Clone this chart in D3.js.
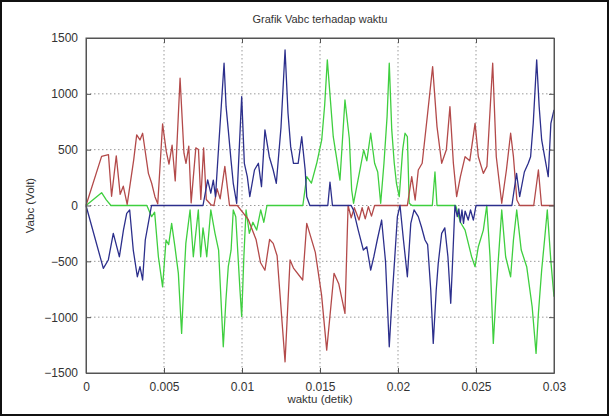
<!DOCTYPE html>
<html>
<head>
<meta charset="utf-8">
<script src="https://cdn.jsdelivr.net/npm/d3@7"></script>
<style>
  body { margin: 0; background: #fff; }
  svg { display: block; font-family: "Liberation Sans", Arial, sans-serif; }
  .tick text { fill: #333; font-size: 12px; }
</style>
</head>
<body>
<svg id="chart"></svg>
<script>
// waktu (detik) vs tegangan (Volt), titik-titik
var phaseA = [
  [0,0],[0.0010,440],[0.00144,456],[0.00164,83],[0.00194,445],[0.00219,100],[0.00239,173],
  [0.00264,10],[0.00306,411],[0.00325,632],[0.00346,587],[0.00363,647],[0.0040,288],
  [0.00421,199],[0.00442,79],[0.0046,15],[0.00491,730],[0.00515,480],[0.00532,370],
  [0.00552,540],[0.00572,220],[0.00603,1140],[0.00628,468],[0.00641,378],[0.00659,531],
  [0.00674,24],[0.00704,516],[0.00721,501],[0.00736,54],[0.00754,516],[0.00771,54],
  [0.00803,5],[0.0082,0],[0.0084,150],[0.0086,60],[0.0089,350],[0.0092,0],[0.0097,0],
  [0.0104,-125],[0.0109,-304],[0.01119,-513],[0.01147,-580],[0.01177,-304],[0.0120,-339],
  [0.01225,-450],[0.01276,-1400],[0.01308,-488],[0.0133,-560],[0.01389,-667],[0.01415,-160],
  [0.0147,-420],[0.0151,-800],[0.01543,-1295],[0.0159,-607],[0.0162,-700],[0.0166,-966],
  [0.0168,0],[0.0170,-110],[0.0172,-20],[0.0175,-130],[0.0177,-20],[0.0179,-120],
  [0.0181,-10],[0.0183,-95],[0.0185,0],[0.0206,0],[0.02088,258],[0.0211,49],[0.0213,318],
  [0.02155,378],[0.0219,826],[0.02222,1244],[0.0225,706],[0.0228,378],[0.0231,500],
  [0.02333,885],[0.02355,378],[0.02376,79],[0.0240,258],[0.0243,437],[0.0246,400],
  [0.02494,735],[0.02515,437],[0.02547,288],[0.0257,350],[0.02607,1274],[0.0263,437],
  [0.0265,199],[0.02665,20],[0.02695,318],[0.02722,647],[0.0274,437],[0.02762,49],
  [0.0278,0],[0.0287,0],[0.0290,318],[0.0292,0],[0.03,0]
];

var phaseB = [
  [0,0],[0.00111,-563],[0.00143,-488],[0.00175,-249],[0.00214,-459],[0.0024,-220],
  [0.00261,-70],[0.0028,-40],[0.00303,-399],[0.00329,-638],[0.00346,-548],[0.00363,-667],
  [0.0038,-309],[0.00403,-130],[0.0042,0],[0.0075,0],[0.0078,230],[0.0080,110],[0.00816,228],
  [0.0083,79],[0.0085,520],[0.00885,1274],[0.00898,885],[0.00912,677],[0.0093,400],
  [0.00944,199],[0.00966,20],[0.00998,975],[0.01015,378],[0.01034,258],[0.0105,79],
  [0.0108,318],[0.01105,378],[0.01125,169],[0.01147,677],[0.01175,437],[0.0120,318],
  [0.0122,199],[0.0125,700],[0.01276,1393],[0.01295,826],[0.01312,527],[0.0133,378],
  [0.0136,378],[0.01383,616],[0.01405,318],[0.01415,79],[0.01435,0],[0.0155,0],
  [0.01564,210],[0.0158,0],[0.0170,0],[0.01714,-40],[0.01745,-220],[0.01778,-399],
  [0.0180,-370],[0.01825,-578],[0.01845,-459],[0.01867,-309],[0.01895,-130],[0.0192,-500],
  [0.01944,-1265],[0.0196,-876],[0.01981,-428],[0.01996,-100],[0.02013,0],[0.02035,-309],
  [0.0206,-638],[0.02082,-160],[0.02103,-40],[0.0213,-100],[0.0215,-190],[0.02173,-309],
  [0.0219,-350],[0.0221,-757],[0.02226,-1235],[0.02245,-757],[0.02258,-518],[0.0228,-249],
  [0.0230,-200],[0.0232,-459],[0.02338,-876],[0.0235,-500],[0.02365,0],[0.0238,-100],
  [0.0239,-30],[0.0240,-150],[0.0241,-40],[0.0242,-160],[0.0243,-50],[0.0245,-130],
  [0.02465,-40],[0.02483,-130],[0.0250,0],[0.0273,0],[0.0276,288],[0.0278,79],[0.0281,300],
  [0.02835,378],[0.0285,437],[0.02867,736],[0.02889,1304],[0.02905,885],[0.02921,587],
  [0.0294,437],[0.02963,258],[0.0298,736],[0.03,856]
];

var phaseC = [
  [0,0],[0.0010,115],[0.0013,50],[0.0016,0],[0.0039,0],[0.00421,-100],[0.0044,-60],
  [0.00464,-459],[0.00491,-728],[0.00513,-309],[0.0053,-350],[0.00549,-160],[0.0057,-369],
  [0.00592,-608],[0.00613,-1145],[0.0063,-608],[0.0064,-339],[0.00667,-40],[0.00688,-459],
  [0.0070,-300],[0.0072,-40],[0.00735,-459],[0.0075,-200],[0.0076,-300],[0.00774,-459],
  [0.0080,-40],[0.00827,-249],[0.0085,-400],[0.0088,-1265],[0.00897,-847],[0.00912,-548],
  [0.0093,-400],[0.00944,-40],[0.0096,-100],[0.00987,-757],[0.00998,-996],[0.01012,-459],
  [0.01026,-40],[0.01047,-249],[0.0107,-150],[0.01094,-220],[0.0112,-40],[0.0114,-150],
  [0.0116,0],[0.0139,0],[0.01415,258],[0.01445,200],[0.01479,378],[0.01511,587],
  [0.0153,900],[0.01547,1304],[0.01565,975],[0.01585,616],[0.01605,437],[0.01628,228],
  [0.0166,945],[0.01688,600],[0.01703,139],[0.01715,20],[0.01756,318],[0.0178,497],
  [0.0180,400],[0.01825,647],[0.0185,378],[0.0187,300],[0.01889,20],[0.0191,378],
  [0.0193,796],[0.01944,1274],[0.0196,677],[0.01976,378],[0.0199,199],[0.02008,79],
  [0.0203,500],[0.02045,647],[0.0206,617],[0.02072,20],[0.0209,0],[0.0222,0],[0.02237,300],
  [0.0225,0],[0.0237,0],[0.0240,-150],[0.0243,-220],[0.02472,-459],[0.02494,-548],
  [0.02515,-369],[0.02547,-220],[0.02569,0],[0.0259,-459],[0.02611,-1235],[0.0263,-757],
  [0.02643,-488],[0.02665,-40],[0.0269,-459],[0.02722,-638],[0.0274,-309],[0.02761,-40],
  [0.0279,-399],[0.02825,-548],[0.0286,-907],[0.02885,-1324],[0.0290,-966],[0.02921,-578],
  [0.0294,-300],[0.02957,-40],[0.0298,-500],[0.03,-817]
];

var xTicks = [0, 0.005, 0.01, 0.015, 0.02, 0.025, 0.03];
var xTickLabels = ["0", "0.005", "0.01", "0.015", "0.02", "0.025", "0.03"];
var yTicks = [-1500, -1000, -500, 0, 500, 1000, 1500];

var width = 609, height = 416;
var margin = {top: 38, right: 55, bottom: 43, left: 86};
var w = width - margin.left - margin.right,
    h = height - margin.top - margin.bottom;

var svg = d3.select("#chart")
    .attr("width", width)
    .attr("height", height);

// bingkai luar
svg.append("rect")
    .attr("x", 1).attr("y", 1)
    .attr("width", width - 2).attr("height", height - 2)
    .attr("fill", "#fff")
    .attr("stroke", "#111")
    .attr("stroke-width", 2);

var x = d3.scaleLinear().domain([0, 0.03]).range([0, w]);
var y = d3.scaleLinear().domain([-1500, 1500]).range([h, 0]);

var g = svg.append("g")
    .attr("transform", "translate(" + margin.left + "," + margin.top + ")");

// grid
g.selectAll(".gx").data(xTicks.slice(1, -1))
  .enter().append("line")
    .attr("x1", function(d) { return x(d); }).attr("x2", function(d) { return x(d); })
    .attr("y1", 0).attr("y2", h)
    .attr("stroke", "#9a9a9a").attr("stroke-dasharray", "1.5,2.5");
g.selectAll(".gy").data(yTicks.slice(1, -1))
  .enter().append("line")
    .attr("y1", function(d) { return y(d); }).attr("y2", function(d) { return y(d); })
    .attr("x1", 0).attr("x2", w)
    .attr("stroke", "#9a9a9a").attr("stroke-dasharray", "1.5,2.5");

var line = d3.line()
    .x(function(d) { return x(d[0]); })
    .y(function(d) { return y(d[1]); });

var series = [
    {data: phaseC, color: "#3fcf3f"},
    {data: phaseA, color: "#b34a4a"},
    {data: phaseB, color: "#2c2f8c"}
];

g.selectAll(".phase").data(series)
  .enter().append("path")
    .attr("class", "phase")
    .attr("d", function(d) { return line(d.data); })
    .attr("fill", "none")
    .attr("stroke", function(d) { return d.color; })
    .attr("stroke-width", 1.3)
    .attr("stroke-linejoin", "round");

// sumbu
g.append("g")
    .attr("transform", "translate(0," + h + ")")
    .call(d3.axisBottom(x).tickValues(xTicks)
        .tickFormat(function(d, i) { return xTickLabels[i]; })
        .tickSizeInner(-5).tickSizeOuter(0).tickPadding(9));
g.append("g")
    .call(d3.axisLeft(y).tickValues(yTicks).tickFormat(d3.format("d"))
        .tickSizeInner(-5).tickSizeOuter(0).tickPadding(8));
g.append("g")
    .call(d3.axisTop(x).tickValues(xTicks).tickFormat("")
        .tickSizeInner(-5).tickSizeOuter(0));
g.append("g")
    .attr("transform", "translate(" + w + ",0)")
    .call(d3.axisRight(y).tickValues(yTicks).tickFormat("")
        .tickSizeInner(-5).tickSizeOuter(0));

g.selectAll(".domain").attr("stroke", "#555");
g.selectAll(".tick line").attr("stroke", "#555");

g.append("rect")
    .attr("width", w).attr("height", h)
    .attr("fill", "none")
    .attr("stroke", "#555");

svg.append("text")
    .attr("x", margin.left + w / 2).attr("y", 23)
    .attr("text-anchor", "middle")
    .attr("font-size", 11).attr("fill", "#333")
    .text("Grafik Vabc terhadap waktu");

svg.append("text")
    .attr("x", margin.left + w / 2).attr("y", 403)
    .attr("text-anchor", "middle")
    .attr("font-size", 11.5).attr("fill", "#333")
    .text("waktu (detik)");

svg.append("text")
    .attr("transform", "translate(34," + (margin.top + h / 2) + ") rotate(-90)")
    .attr("text-anchor", "middle")
    .attr("font-size", 11.5).attr("fill", "#333")
    .text("Vabc (Volt)");
</script>
</body>
</html>
